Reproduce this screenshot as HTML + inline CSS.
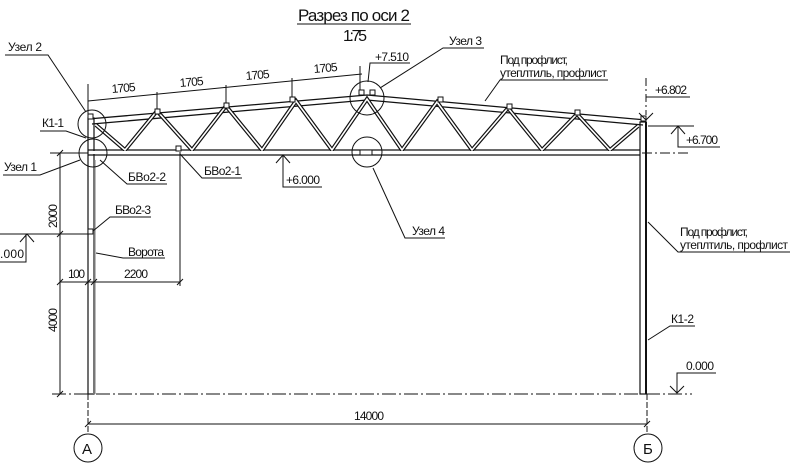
<!DOCTYPE html>
<html><head><meta charset="utf-8"><style>
html,body{margin:0;padding:0;background:#fff}
svg{display:block}
text{font-family:"Liberation Sans","DejaVu Sans",sans-serif;fill:#111}
</style></head><body>
<svg width="800" height="466" viewBox="0 0 800 466" xmlns="http://www.w3.org/2000/svg" font-size="12">
<g stroke="#111" fill="none" stroke-width="1">
<line x1="297" y1="24" x2="411" y2="24"/>
<rect x="88" y="118" width="6" height="276" fill="#fff" stroke-width="1.2"/>
<rect x="93" y="160" width="2.5" height="234" fill="#777" stroke="none"/>
<rect x="640" y="122" width="6" height="272" fill="#fff" stroke-width="1.2"/>
<line x1="646" y1="122" x2="646" y2="394" stroke-width="2"/>
<path d="M88 119 L367 95 L646 120" stroke-width="1.3"/>
<path d="M92 124 L367 100 L643 125" stroke-width="1.3"/>
<line x1="88" y1="150" x2="640" y2="150" stroke-width="1.3"/>
<line x1="88" y1="155" x2="640" y2="155" stroke-width="1.3"/>
<g stroke-width="4">
<path d="M96 125 L125 150 L157 111 L192 150 L226 106 L262 150 L296 101 L332 150 L367 99 L402 150 L437 102 L472 150 L508 108 L542 150 L577 114 L610 150 L638 126"/>
</g>
<g stroke-width="1.6" stroke="#fff">
<path d="M96 125 L125 150 L157 111 L192 150 L226 106 L262 150 L296 101 L332 150 L367 99 L402 150 L437 102 L472 150 L508 108 L542 150 L577 114 L610 150 L638 126"/>
</g>
<line x1="92" y1="152.5" x2="638" y2="152.5" stroke="#fff" stroke-width="3"/>
<g fill="#fff" stroke-width="1">
<rect x="88" y="114" width="5" height="5"/><rect x="155" y="109" width="5" height="5"/>
<rect x="224" y="103" width="5" height="5"/><rect x="290" y="97" width="5" height="5"/>
<rect x="359" y="90" width="5" height="5"/><rect x="370" y="90" width="5" height="5"/>
<rect x="438" y="97" width="5" height="5"/><rect x="507" y="104" width="5" height="5"/>
<rect x="575" y="110" width="5" height="5"/><rect x="641" y="116" width="5" height="5"/>
<rect x="176" y="146" width="5" height="5"/><rect x="360" y="150" width="12" height="5"/>
</g>
<line x1="88" y1="101" x2="362" y2="74"/>
<line x1="88" y1="84" x2="88" y2="114"/>
<line x1="157" y1="92" x2="157" y2="109"/>
<line x1="226" y1="85" x2="226" y2="103"/>
<line x1="292" y1="78" x2="292" y2="97"/>
<line x1="360" y1="66" x2="360" y2="90"/>
<circle cx="92" cy="124" r="14"/><circle cx="93" cy="153" r="14"/>
<circle cx="367" cy="98" r="17"/><circle cx="367" cy="152" r="15"/>
<polyline points="5,55 48,55 86,112"/>
<polyline points="40,131 66,131 86,138"/>
<polyline points="3,175 40,175 80,160"/>
<polyline points="167,184 127,184 100,160"/>
<polyline points="242,178 202,178 180,154"/>
<polyline points="283,155 283,187 322,187"/>
<polyline points="276,163 283,155 290,163"/>
<polyline points="410,63 370,63 368,82"/>
<polyline points="484,48 443,48 380,88"/>
<polyline points="608,80 500,80 485,101"/>
<polyline points="373,168 405,238 445,238"/>
<line x1="646" y1="78" x2="646" y2="115" stroke-dasharray="8,3,2,3"/>
<polyline points="646,97 690,97"/>
<polyline points="639,113 646,120 653,113"/>
<line x1="648" y1="126" x2="694" y2="126"/>
<polyline points="678,126 678,147 720,147"/>
<polyline points="671,134 678,126 685,134"/>
<line x1="642" y1="153" x2="690" y2="153" stroke-dasharray="10,3,2,3"/>
<polyline points="648,222 678,252 790,252"/>
<polyline points="648,340 670,326 695,326"/>
<polyline points="677,393 677,373 716,373"/>
<polyline points="670,386 677,393 684,386"/>
<line x1="52" y1="394" x2="692" y2="394" stroke-dasharray="14,3,2,3"/>
<line x1="88" y1="394" x2="88" y2="434" stroke-dasharray="6,2"/>
<line x1="647" y1="394" x2="647" y2="434" stroke-dasharray="6,2"/>
<line x1="88" y1="424" x2="647" y2="424"/>
<line x1="85" y1="427" x2="91" y2="421"/><line x1="644" y1="427" x2="650" y2="421"/>
<circle cx="88" cy="448" r="14"/><circle cx="648" cy="448" r="14"/>
<line x1="60" y1="153" x2="60" y2="394"/>
<line x1="50" y1="153" x2="88" y2="153"/>
<line x1="0" y1="234" x2="93" y2="234"/>
<line x1="60" y1="282" x2="180" y2="282"/>
<line x1="180" y1="152" x2="180" y2="286"/>
<line x1="57" y1="156" x2="63" y2="150"/><line x1="57" y1="237" x2="63" y2="231"/>
<line x1="57" y1="285" x2="63" y2="279"/><line x1="57" y1="397" x2="63" y2="391"/>
<line x1="85" y1="285" x2="91" y2="279"/><line x1="91" y1="285" x2="97" y2="279"/><line x1="177" y1="285" x2="183" y2="279"/>
<polyline points="0,262 26,262 26,234"/>
<polyline points="20,242 27,234 34,242"/>
<rect x="88" y="229" width="5" height="5" fill="#fff"/>
<polyline points="93,231 110,217 151,217"/>
<polyline points="96,253 123,258 165,258"/>
</g>
<text x="298" y="21" style="font-size:17px" textLength="112">Разрез по оси 2</text>
<text x="343" y="41" style="font-size:16px" textLength="24">1:75</text>
<text x="8" y="51" textLength="34">Узел 2</text>
<text x="42" y="127" textLength="22">К1-1</text>
<text x="4" y="171" textLength="33">Узел 1</text>
<text x="128" y="181" textLength="38">БВо2-2</text>
<text x="204" y="175" textLength="37">БВо2-1</text>
<text x="286" y="184" textLength="34">+6.000</text>
<text x="375" y="61" textLength="34">+7.510</text>
<text x="449" y="45" textLength="33">Узел 3</text>
<text x="500" y="64" textLength="68">Под профлист,</text>
<text x="500" y="77" textLength="107">утеплтиль, профлист</text>
<text x="655" y="94" textLength="32">+6.802</text>
<text x="686" y="144" textLength="32">+6.700</text>
<text x="412" y="235" textLength="33">Узел 4</text>
<text x="680" y="236" textLength="68">Под профлист,</text>
<text x="680" y="249" textLength="108">утеплтиль, профлист</text>
<text x="671" y="323" textLength="23">К1-2</text>
<text x="686" y="370" textLength="28">0.000</text>
<text x="354" y="420" textLength="30">14000</text>
<text x="82" y="454" style="font-size:15px">А</text>
<text x="643" y="454" style="font-size:15px">Б</text>
<text x="112" y="93" transform="rotate(-5 112 93)" textLength="24">1705</text>
<text x="180" y="87" transform="rotate(-5 180 87)" textLength="24">1705</text>
<text x="246" y="80" transform="rotate(-5 246 80)" textLength="24">1705</text>
<text x="314" y="73" transform="rotate(-5 314 73)" textLength="24">1705</text>
<text x="115" y="214" textLength="36">БВо2-3</text>
<text x="128" y="256" textLength="36">Ворота</text>
<text x="68" y="278" textLength="17">100</text>
<text x="124" y="278" textLength="24">2200</text>
<text x="0" y="258" textLength="24">.000</text>
<text x="57" y="228" transform="rotate(-90 57 228)" textLength="24">2000</text>
<text x="57" y="332" transform="rotate(-90 57 332)" textLength="24">4000</text>
</svg>
</body></html>
